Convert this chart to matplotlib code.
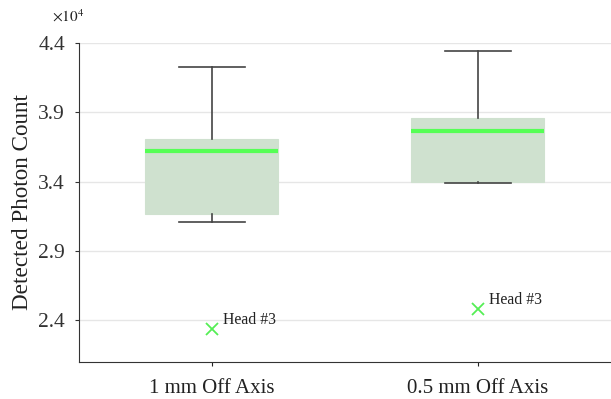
import matplotlib
matplotlib.use("Agg")
import matplotlib.pyplot as plt

categories = ["1 mm Off Axis", "0.5 mm Off Axis"]
# values in units of 1e4 photon counts
whislo = [3.11, 3.39]
q1 = [3.165, 3.40]
med = [3.625, 3.765]
q3 = [3.705, 3.857]
whishi = [4.225, 4.342]
outliers = [2.335, 2.48]
outlier_labels = ["Head #3", "Head #3"]
yticks = [2.4, 2.9, 3.4, 3.9, 4.4]

plt.rcParams['font.family'] = ['Liberation Serif', 'DejaVu Serif']
plt.rcParams['mathtext.fontset'] = 'stix'

fig = plt.figure(figsize=(6.11, 3.99), dpi=100)
ax = fig.add_axes([0.129, 0.093, 0.871, 0.799])

stats = []
for i in range(len(categories)):
    stats.append(dict(med=med[i], q1=q1[i], q3=q3[i], whislo=whislo[i],
                      whishi=whishi[i], fliers=[], label=categories[i]))
positions = list(range(1, len(categories) + 1))
ax.bxp(stats, positions=positions, widths=0.5, patch_artist=True,
       showfliers=False,
       boxprops=dict(facecolor="#cfe1cf", edgecolor="#cfe1cf", linewidth=0.8),
       medianprops=dict(color="#55ff55", linewidth=3),
       whiskerprops=dict(color="#444444", linewidth=1.2),
       capprops=dict(color="#444444", linewidth=1.2),
       capwidths=0.25, zorder=3)

for p, o, lab in zip(positions, outliers, outlier_labels):
    ax.plot([p], [o], marker='x', color="#55ee55", markersize=8,
            markeredgewidth=1.3, linestyle='none', zorder=4)
    ax.annotate(lab, (p, o), xytext=(8, 4), textcoords='offset points',
                fontsize=11.3, color="#222222")

ax.set_xlim(0.5, 2.5)
ax.set_ylim(2.1, 4.4)
ax.set_yticks(yticks)
ax.set_yticklabels([f"{t:.1f}" for t in yticks])
ax.set_xticks(positions)
ax.set_xticklabels(categories)
ax.yaxis.grid(True, color="#e6e6e6", linewidth=1, zorder=0)
ax.set_axisbelow(True)
for s in ["top", "right"]:
    ax.spines[s].set_visible(False)
for s in ["left", "bottom"]:
    ax.spines[s].set_color("#333333")
ax.tick_params(axis='y', labelsize=15.5, colors="#333333", length=3, direction='out', pad=7)
ax.tick_params(axis='x', labelsize=15, colors="#222222", length=3, direction='out', pad=9)
ax.set_ylabel("Detected Photon Count", fontsize=16.7, color="#222222", labelpad=4)
fig.text(0.085, 0.945, r"$\times 10^{4}$", fontsize=11, color="#222222")

fig.savefig("out.png", dpi=100)
